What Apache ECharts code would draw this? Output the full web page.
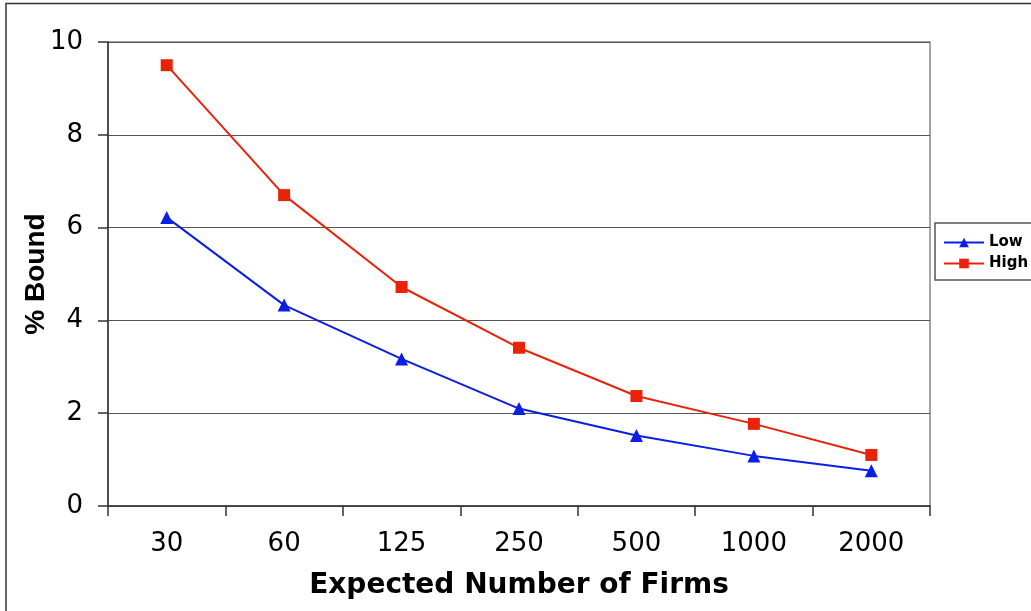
<!DOCTYPE html>
<html>
<head>
<meta charset="utf-8">
<script src="https://cdn.jsdelivr.net/npm/echarts@6/dist/echarts.min.js"></script>
<style>
  html, body { margin: 0; padding: 0; background: #fff; }
  #chart { width: 1031px; height: 611px; }
</style>
</head>
<body>
<div id="chart"></div>
<script>
// Expected number of firms (category axis)
const firms = ['30', '60', '125', '250', '500', '1000', '2000'];
// % bound for the low and high scenarios
const lowBound = [6.22, 4.33, 3.17, 2.10, 1.52, 1.08, 0.76];
const highBound = [9.50, 6.70, 4.72, 3.41, 2.37, 1.77, 1.10];
const yTicks = [0, 2, 4, 6, 8, 10];

const wideFont = '"DejaVu Sans", sans-serif';
const titleFont = '"Liberation Sans", Arial, sans-serif';
const chart = echarts.init(document.getElementById('chart'), null, { renderer: 'canvas' });

chart.setOption({
  animation: false,
  backgroundColor: '#ffffff',
  graphic: [
    {
      type: 'rect',
      shape: { x: 6, y: 3.5, width: 1100, height: 700 },
      style: { fill: 'none', stroke: '#333', lineWidth: 1.5 },
      z: -1
    },
    {
      type: 'rect',
      shape: { x: 108, y: 42, width: 822, height: 464 },
      style: { fill: 'none', stroke: '#888', lineWidth: 1.5 },
      z: 0
    }
  ],
  grid: { left: 108, right: 101, top: 42, bottom: 105, containLabel: false },
  legend: {
    left: 935,
    top: 223,
    orient: 'vertical',
    itemWidth: 40,
    itemHeight: 12,
    itemGap: 6,
    padding: [12, 20, 9, 8],
    borderColor: '#555',
    borderWidth: 1.5,
    textStyle: { fontFamily: wideFont, fontSize: 15, fontWeight: 'bold', color: '#000' },
    data: ['Low', 'High']
  },
  xAxis: {
    type: 'category',
    data: firms,
    boundaryGap: true,
    name: 'Expected Number of Firms',
    nameLocation: 'middle',
    nameGap: 66,
    nameMoveOverlap: false,
    nameTextStyle: { fontFamily: wideFont, fontSize: 28, fontWeight: 'bold', color: '#000' },
    axisLine: { lineStyle: { color: '#333', width: 1.5 } },
    axisTick: { show: true, length: 10, lineStyle: { color: '#333', width: 1.5 } },
    axisLabel: { fontFamily: wideFont, fontSize: 26, color: '#000', margin: 25 },
    splitLine: { show: false }
  },
  yAxis: {
    type: 'value',
    min: yTicks[0],
    max: yTicks[yTicks.length - 1],
    interval: 2,
    name: '% Bound',
    nameLocation: 'middle',
    nameGap: 58,
    nameMoveOverlap: false,
    nameRotate: 90,
    nameTextStyle: { fontFamily: titleFont, fontSize: 28, fontWeight: 'bold', color: '#000' },
    axisLine: { show: true, lineStyle: { color: '#333', width: 1.5 } },
    axisTick: { show: true, length: 10, lineStyle: { color: '#333', width: 1.5 } },
    axisLabel: { fontFamily: wideFont, fontSize: 26, color: '#000', margin: 25 },
    splitLine: { show: true, lineStyle: { color: '#555', width: 1 } }
  },
  series: [
    {
      name: 'Low',
      type: 'line',
      data: lowBound,
      symbol: 'triangle',
      symbolSize: 13,
      lineStyle: { color: '#0a1ee6', width: 2 },
      itemStyle: { color: '#0a1ee6' },
      z: 3
    },
    {
      name: 'High',
      type: 'line',
      data: highBound,
      symbol: 'rect',
      symbolSize: 12,
      lineStyle: { color: '#e8230a', width: 2 },
      itemStyle: { color: '#e8230a' },
      z: 4
    }
  ]
});
</script>
</body>
</html>
